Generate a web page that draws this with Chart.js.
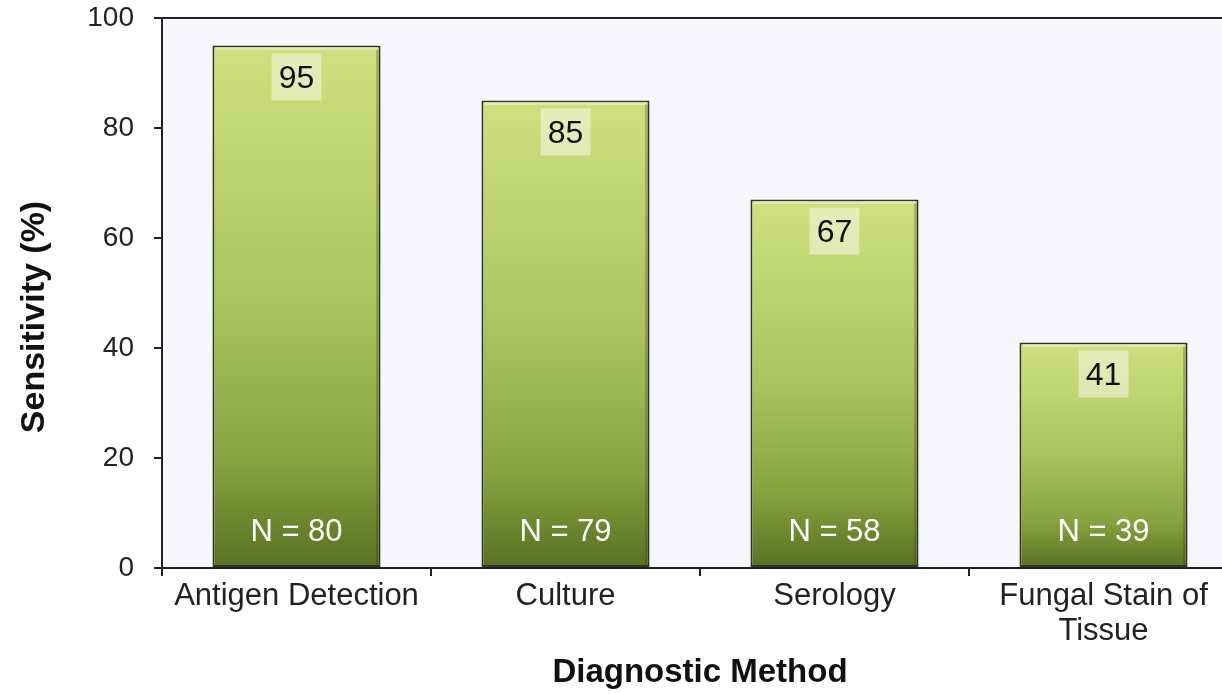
<!DOCTYPE html>
<html>
<head>
<meta charset="utf-8">
<script src="https://cdn.jsdelivr.net/npm/chart.js@4.4.1/dist/chart.umd.min.js"></script>
<style>
    html, body { margin: 0; padding: 0; background: #ffffff; overflow: hidden; }
    #wrap { width: 1240px; height: 694px; position: relative; }
</style>
</head>
<body>
<div id="wrap"><canvas id="sensitivityChart"></canvas></div>
<script>
const methods = ['Antigen Detection', 'Culture', 'Serology', ['Fungal Stain of', 'Tissue']];
const sensitivity = [95, 85, 67, 41];
const sampleSizes = [80, 79, 58, 39];
const yTicks = [0, 20, 40, 60, 80, 100];

const FONT = '"Liberation Sans", Arial, Helvetica, sans-serif';

// per-bar vertical gradient, light on top, dark olive at the base
function barGradient(context) {
    const chart = context.chart;
    if (!chart.chartArea || context.raw === undefined) return '#a8c060';
    const y = chart.scales.y;
    const top = y.getPixelForValue(context.raw);
    const bottom = y.getPixelForValue(0);
    const g = chart.ctx.createLinearGradient(0, top, 0, bottom);
    g.addColorStop(0, '#cde27f');
    g.addColorStop(0.5, '#aac35f');
    g.addColorStop(0.8, '#86a23e');
    g.addColorStop(1, '#587022');
    return g;
}

const plotFrame = {
    id: 'plotFrame',
    beforeDraw(chart) {
        const { ctx, chartArea: a } = chart;
        ctx.save();
        ctx.fillStyle = '#f4f8fd';
        ctx.fillRect(a.left, a.top, a.right - a.left, a.bottom - a.top);
        ctx.restore();
    },
    afterDraw(chart) {
        const { ctx, chartArea: a } = chart;
        ctx.save();
        ctx.strokeStyle = '#222';
        ctx.lineWidth = 2;
        ctx.beginPath();
        ctx.moveTo(a.left - 8, a.top);
        ctx.lineTo(a.right, a.top);
        ctx.stroke();
        // y axis title, placed like the original (a little below the plot's middle)
        ctx.translate(35, 317);
        ctx.rotate(-Math.PI / 2);
        ctx.fillStyle = '#111';
        ctx.font = 'bold 34px ' + FONT;
        ctx.textAlign = 'center';
        ctx.textBaseline = 'middle';
        ctx.fillText('Sensitivity (%)', 0, 0);
        ctx.restore();
    }
};

const barLabels = {
    id: 'barLabels',
    afterDatasetsDraw(chart) {
        const { ctx } = chart;
        const meta = chart.getDatasetMeta(0);
        ctx.save();
        meta.data.forEach((bar, i) => {
            const top = bar.y;
            const bottom = bar.base;
            // soft bevel along the inside edges
            ctx.strokeStyle = 'rgba(255, 255, 255, 0.35)';
            ctx.lineWidth = 3;
            ctx.beginPath();
            ctx.moveTo(bar.x - bar.width / 2 + 3, top + 3);
            ctx.lineTo(bar.x + bar.width / 2 - 3, top + 3);
            ctx.stroke();
            ctx.strokeStyle = 'rgba(40, 50, 10, 0.25)';
            ctx.beginPath();
            ctx.moveTo(bar.x + bar.width / 2 - 3, top + 4);
            ctx.lineTo(bar.x + bar.width / 2 - 3, bottom - 2);
            ctx.stroke();
            // value in a pale box near the top of the bar
            ctx.fillStyle = 'rgba(255, 255, 255, 0.45)';
            ctx.fillRect(bar.x - 25, top + 8, 50, 47);
            ctx.fillStyle = '#111';
            ctx.font = '32px ' + FONT;
            ctx.textAlign = 'center';
            ctx.textBaseline = 'middle';
            ctx.fillText(String(sensitivity[i]), bar.x, top + 34);
            // sample size at the base
            ctx.fillStyle = '#ffffff';
            ctx.font = '31px ' + FONT;
            ctx.fillText('N = ' + sampleSizes[i], bar.x, bottom - 35);
        });
        ctx.restore();
    }
};

const ctx = document.getElementById('sensitivityChart');
new Chart(ctx, {
    type: 'bar',
    data: {
        labels: methods,
        datasets: [{
            label: 'Sensitivity (%)',
            data: sensitivity,
            backgroundColor: barGradient,
            borderColor: '#333826',
            borderWidth: 2,
            borderSkipped: false,
            barPercentage: 0.625,
            categoryPercentage: 1.0
        }]
    },
    options: {
        responsive: true,
        maintainAspectRatio: false,
        animation: false,
        layout: { padding: { left: 0, right: 2, top: 18, bottom: 0 } },
        plugins: {
            legend: { display: false },
            tooltip: { enabled: false }
        },
        scales: {
            x: {
                grid: { display: true, drawOnChartArea: false, offset: true, tickLength: 8, color: '#222', lineWidth: 2 },
                border: { display: true, color: '#222', width: 2 },
                ticks: { color: '#222', padding: 3, maxRotation: 0, autoSkip: false, font: { family: FONT, size: 31, lineHeight: 1.13 } },
                title: { display: true, text: 'Diagnostic Method', color: '#111', padding: { top: 0, bottom: 1 }, font: { family: FONT, size: 33, weight: 'bold', lineHeight: 1.2 } },
                afterFit: scale => { scale.height = 126; scale.paddingLeft = 0; scale.paddingRight = 0; }
            },
            y: {
                min: 0,
                max: 100,
                afterBuildTicks: scale => { scale.ticks = yTicks.map(v => ({ value: v })); },
                grid: { display: true, drawOnChartArea: false, tickLength: 8, color: '#222', lineWidth: 2 },
                border: { display: true, color: '#222', width: 2 },
                ticks: { color: '#222', padding: 20, font: { family: FONT, size: 28 } },
                title: { display: false },
                afterFit: scale => { scale.width = 162; scale.paddingTop = 0; scale.paddingBottom = 0; }
            }
        }
    },
    plugins: [plotFrame, barLabels]
});
</script>
</body>
</html>
